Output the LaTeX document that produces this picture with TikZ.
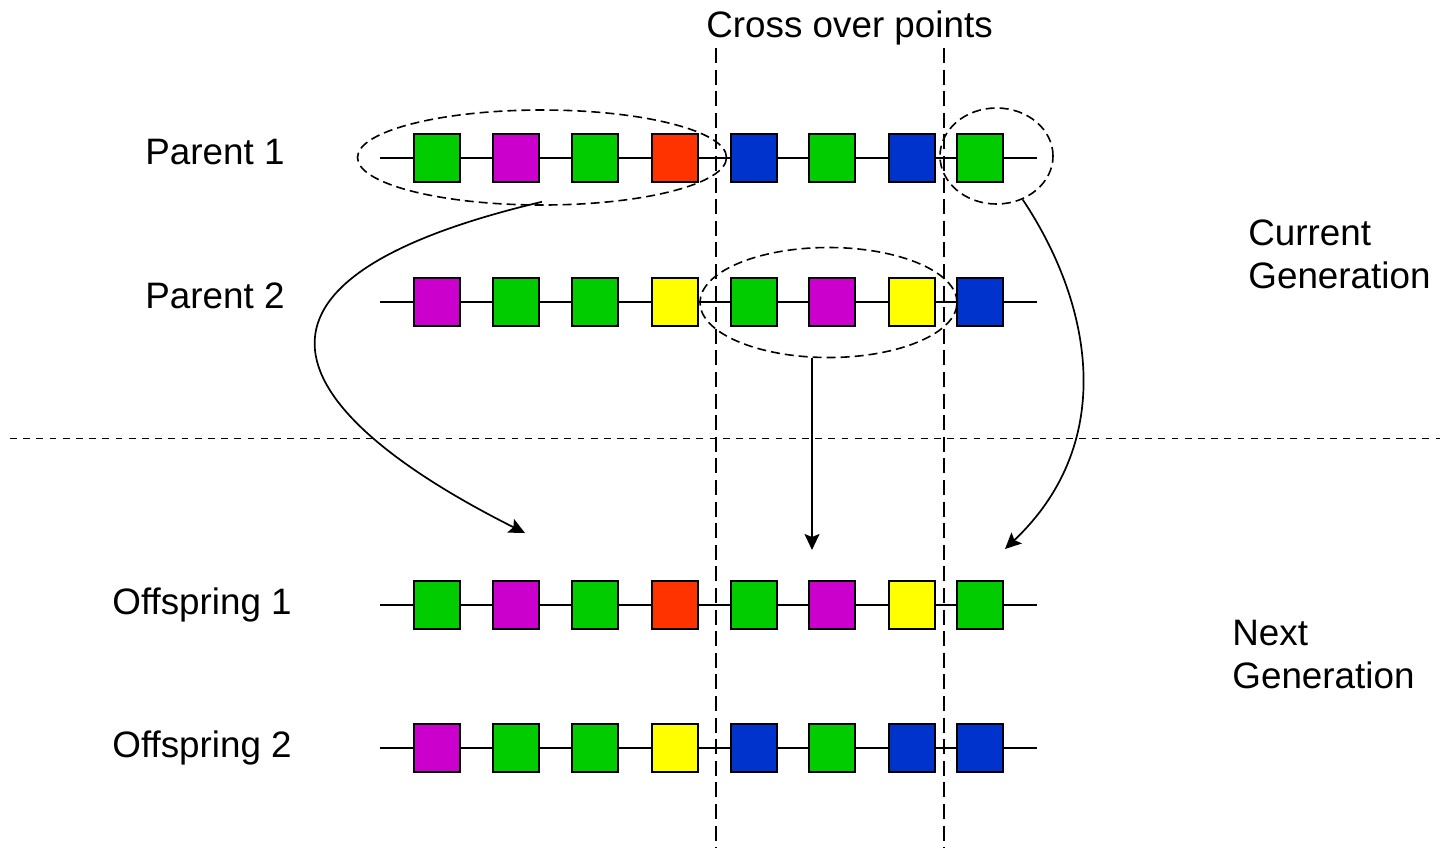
\documentclass[tikz,border=0pt]{standalone}
\usepackage{fontspec}
\setmainfont{Liberation Sans}
\usetikzlibrary{shapes.geometric,arrows.meta}
\definecolor{gG}{RGB}{0,204,0}
\definecolor{gM}{RGB}{204,0,204}
\definecolor{gR}{RGB}{255,51,0}
\definecolor{gB}{RGB}{0,51,204}
\definecolor{gY}{RGB}{255,255,0}
\tikzset{
  gene/.style={draw=black,line width=1pt,minimum width=23pt,minimum height=24pt,inner sep=0pt,fill=#1},
  chrom/.style={line width=0.7pt},
  lbl/.style={inner sep=0pt,anchor=base west,align=left,font=\fontsize{18.4}{21.5}\selectfont},
  grp/.style={ellipse,draw=black,line width=0.8pt,dash pattern=on 4.5pt off 2.5pt,inner sep=0pt},
  cutline/.style={line width=0.8pt,dash pattern=on 7.5pt off 3.3pt},
  genline/.style={line width=0.8pt,dash pattern=on 3.4pt off 3.2pt},
  move/.style={line width=0.85pt,-{Stealth[length=8pt,width=7.5pt,inset=1.5pt]}}
}
\begin{document}
\begin{tikzpicture}[x=0.5pt,y=-0.5pt]
\useasboundingbox (0,0) rectangle (1440,848);
% row y positions
\def\ya{158}\def\yb{302}\def\yc{605}\def\yd{748}
% chromosome lines
\foreach \r/\y in {a/\ya,b/\yb,c/\yc,d/\yd}{
  \coordinate (s\r) at (380,\y);
  \coordinate (t\r) at (1037,\y);
  \draw[chrom] (s\r) -- (t\r);
}
% genes
\foreach \r/\y/\cols in {
  a/\ya/{gG,gM,gG,gR,gB,gG,gB,gG},
  b/\yb/{gM,gG,gG,gY,gG,gM,gY,gB},
  c/\yc/{gG,gM,gG,gR,gG,gM,gY,gG},
  d/\yd/{gM,gG,gG,gY,gB,gG,gB,gB}}{
  \foreach \c [count=\i] in \cols {
    \pgfmathsetmacro\xx{{436.5,516,595,674.5,753.5,832,911.5,980}[\i-1]}
    \node[gene=\c] (g\r\i) at (\xx,\y) {};
  }
}
% cross-over lines
\coordinate (ca1) at (716,48); \coordinate (ca2) at (716,848);
\coordinate (cb1) at (944,48); \coordinate (cb2) at (944,848);
\draw[cutline] (ca1) -- (ca2);
\draw[cutline] (cb1) -- (cb2);
% generation separator
\coordinate (h1) at (10,438.5); \coordinate (h2) at (1440,438.5);
\draw[genline] (h1) -- (h2);
% group ellipses
\node[grp,minimum width=184.5pt,minimum height=47.5pt] (e1) at (542,157.5) {};
\node[grp,minimum width=56.5pt,minimum height=48pt] (e2) at (996.5,156) {};
\node[grp,minimum width=128.5pt,minimum height=55pt] (e3) at (828.5,302.5) {};
% labels
\node[lbl] (cross) at (706,37) {Cross over points};
\node[lbl] (p1) at (145,164) {Parent 1};
\node[lbl] (p2) at (145,308) {Parent 2};
\node[lbl] (o1) at (112,614) {Offspring 1};
\node[lbl] (o2) at (112,757) {Offspring 2};
\node[lbl] (cur) at (1248,288) {Current\\Generation};
\node[lbl] (nxt) at (1232,688) {Next\\Generation};
% arrows
\coordinate (a1) at (525,533);
\coordinate (a2) at (1005,549);
\coordinate (a3) at (812,550);
\draw[move] ([yshift=2pt]e1.south) .. controls (190,285) and (300,420) .. (a1);
\draw[move] (e2.-59) .. controls (1090,300) and (1120,440) .. (a2);
\draw[move] (e3.south -| a3) -- (a3);
\end{tikzpicture}
\end{document}
